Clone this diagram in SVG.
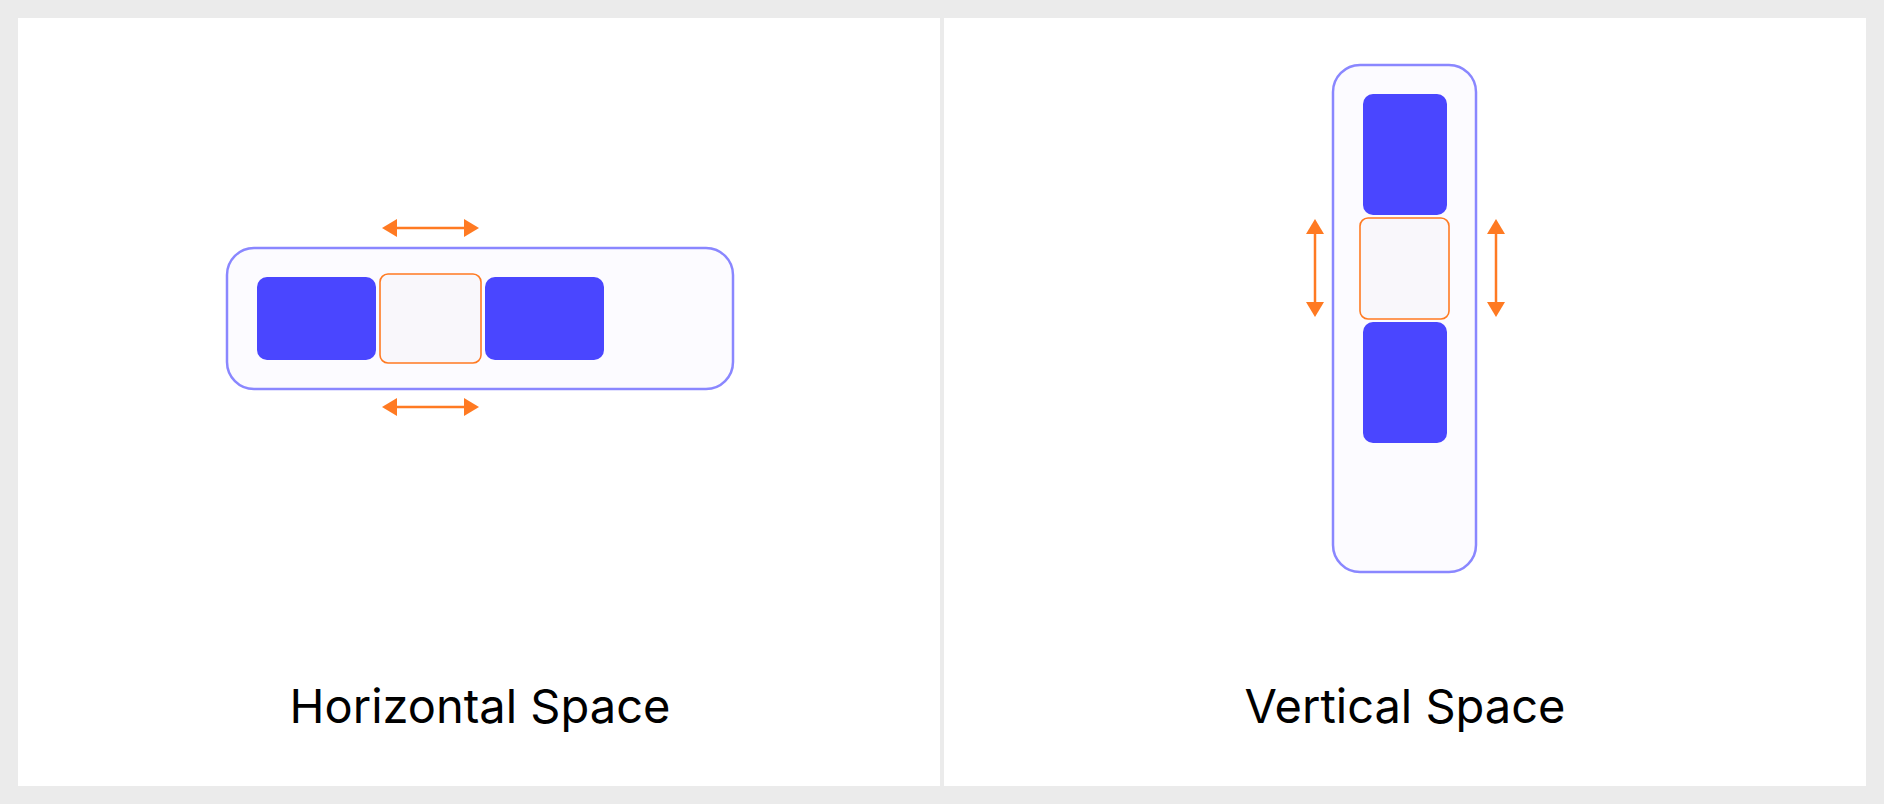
<svg xmlns="http://www.w3.org/2000/svg" width="1884" height="804" viewBox="0 0 1884 804">
<style>
.panel{fill:#ffffff}
.container{fill:#fcfbff;stroke:#8a87ff;stroke-width:2.5}
.item{fill:#4a46ff}
.gap{fill:#f9f7fb;stroke:#ff7a22;stroke-width:1.6}
.arrow{stroke:#ff7a22;stroke-width:2.5;fill:none;marker-start:url(#ah);marker-end:url(#ah)}
.label{font-family:Inter,"Liberation Sans",sans-serif;font-size:47px;fill:#000000;text-anchor:middle}
</style>
<defs>
<marker id="ah" markerUnits="userSpaceOnUse" markerWidth="15" markerHeight="18" refX="11" refY="9" orient="auto-start-reverse" viewBox="0 0 15 18">
<path d="M0,0 L15,9 L0,18 Z" fill="#ff7a22"/>
</marker>
</defs>
<rect x="0" y="0" width="1884" height="804" fill="#ebebeb"/>
<rect class="panel" x="18" y="18" width="922" height="768"/>
<rect class="panel" x="944" y="18" width="922" height="768"/>

<g id="horizontal-container">
<rect class="container" x="227" y="248" width="506" height="141" rx="27"/>
</g>
<g id="h-item-1"><rect class="item" x="257" y="277" width="119" height="83" rx="10"/></g>
<g id="h-gap"><rect class="gap" x="380" y="274" width="101" height="89" rx="8"/></g>
<g id="h-item-2"><rect class="item" x="485" y="277" width="119" height="83" rx="10"/></g>

<g id="vertical-container">
<rect class="container" x="1333" y="65" width="143" height="507" rx="27"/>
</g>
<g id="v-item-1"><rect class="item" x="1363" y="94" width="84" height="121" rx="10"/></g>
<g id="v-gap"><rect class="gap" x="1360" y="218" width="89" height="101" rx="8"/></g>
<g id="v-item-2"><rect class="item" x="1363" y="322" width="84" height="121" rx="10"/></g>

<g id="connectors">
<line class="arrow" x1="386" y1="228" x2="475" y2="228"/>
<line class="arrow" x1="386" y1="407" x2="475" y2="407"/>
<line class="arrow" x1="1315" y1="223" x2="1315" y2="313"/>
<line class="arrow" x1="1496" y1="223" x2="1496" y2="313"/>
</g>

<g id="labels">
<text class="label" x="480" y="723">Horizontal Space</text>
<text class="label" x="1405" y="723">Vertical Space</text>
</g>
</svg>
